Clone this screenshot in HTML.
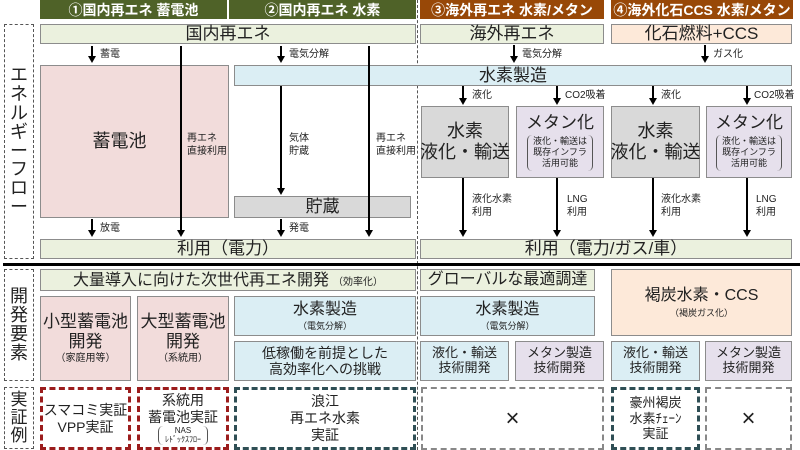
<!DOCTYPE html>
<html><head><meta charset="utf-8"><style>
*{margin:0;padding:0;box-sizing:border-box}
body{width:800px;height:450px;background:#fff;position:relative;overflow:hidden;font-family:"Liberation Sans","Noto Sans CJK JP",sans-serif;color:#222}
.a{position:absolute}
.b{position:absolute;border:1px solid #8c8c8c;display:flex;flex-direction:column;align-items:center;justify-content:center;text-align:center;line-height:1.15;white-space:nowrap}
.hg{background:#4f6228;color:#fff;font-weight:bold;font-size:14px;display:flex;align-items:center;justify-content:center;position:absolute;top:0;height:19px;white-space:nowrap}
.hb{background:#984807;color:#fff;font-weight:bold;font-size:14px;display:flex;align-items:center;justify-content:center;position:absolute;top:0;height:19px;white-space:nowrap}
.gr{background:#ebf1de}.pk{background:#f2dcdb}.bl{background:#dbeef4}.gy{background:#d9d9d9}.lv{background:#e6e0ec}.or{background:#fde9d9}
.v{position:absolute;width:2px;background:#000}
.ah{position:absolute;width:0;height:0;border-left:4px solid transparent;border-right:4px solid transparent;border-top:7px solid #000}
.s{position:absolute;font-size:10px;line-height:1.25;white-space:nowrap}
.d{position:absolute;border:1px dashed #555}
.rd{position:absolute;border:3px dashed #9b1c1c;display:flex;flex-direction:column;align-items:center;justify-content:center;text-align:center;line-height:1.2;white-space:nowrap}
.td{position:absolute;border:3px dashed #2f4f55;display:flex;flex-direction:column;align-items:center;justify-content:center;text-align:center;line-height:1.2;white-space:nowrap}
.xd{position:absolute;border:2px dashed #888;display:flex;align-items:center;justify-content:center;font-size:24px}
.vt{font-size:18px;line-height:1.05;text-align:center}
</style></head><body>
<div class="hg" style="left:40px;width:187px">①国内再エネ 蓄電池</div>
<div class="hg" style="left:229px;width:187px">②国内再エネ 水素</div>
<div class="hb" style="left:420px;width:184px">③海外再エネ 水素/メタン</div>
<div class="hb" style="left:611px;width:182px">④海外化石CCS 水素/メタン</div>

<div class="a" style="left:417px;top:0;height:450px;border-left:1px dashed #555"></div>

<div class="d" style="left:4px;top:24px;width:30px;height:235px;display:flex;align-items:center;justify-content:center"><div class="vt">エ<br>ネ<br>ル<br>ギ<br>ー<br>フ<br>ロ<br>ー</div></div>
<div class="d" style="left:4px;top:269px;width:30px;height:112px;display:flex;align-items:center;justify-content:center"><div class="vt">開<br>発<br>要<br>素</div></div>
<div class="d" style="left:4px;top:387px;width:30px;height:62px;display:flex;align-items:center;justify-content:center"><div class="vt" style="font-size:17px">実<br>証<br>例</div></div>

<div class="a" style="left:3px;top:263px;width:797px;height:3px;background:#000"></div>

<div class="b gr" style="left:40px;top:24px;width:376px;height:20px;font-size:17px">国内再エネ</div>
<div class="b gr" style="left:420px;top:24px;width:184px;height:20px;font-size:17px">海外再エネ</div>
<div class="b or" style="left:611px;top:24px;width:181px;height:20px;font-size:17px">化石燃料+CCS</div>

<div class="b pk" style="left:40px;top:65px;width:189px;height:153px;font-size:18px;padding-right:30px">蓄電池</div>
<div class="b bl" style="left:234px;top:65px;width:558px;height:21px;font-size:17px">水素製造</div>
<div class="b gy" style="left:234px;top:196px;width:177px;height:22px;font-size:17px">貯蔵</div>

<div class="b gy" style="left:421px;top:106px;width:88px;height:72px;font-size:18px">水素<br>液化・輸送</div>
<div class="b lv" style="left:516px;top:106px;width:88px;height:72px;font-size:17px">メタン化<div style="font-size:9px;border-left:1px solid #555;border-right:1px solid #555;border-radius:5px;padding:1px 5px;margin-top:2px;line-height:1.25">液化・輸送は<br>既存インフラ<br>活用可能</div></div>
<div class="b gy" style="left:611px;top:106px;width:89px;height:72px;font-size:18px">水素<br>液化・輸送</div>
<div class="b lv" style="left:706px;top:106px;width:86px;height:72px;font-size:17px">メタン化<div style="font-size:9px;border-left:1px solid #555;border-right:1px solid #555;border-radius:5px;padding:1px 5px;margin-top:2px;line-height:1.25">液化・輸送は<br>既存インフラ<br>活用可能</div></div>

<div class="b gr" style="left:40px;top:239px;width:376px;height:20px;font-size:17px">利用（電力）</div>
<div class="b gr" style="left:420px;top:239px;width:372px;height:20px;font-size:17px">利用（電力/ガス/車）</div>

<div class="v" style="left:91px;top:46px;height:11px"></div><div class="ah" style="left:88px;top:56px"></div><div class="s" style="left:100px;top:49px">蓄電</div>
<div class="v" style="left:180px;top:46px;height:185px"></div><div class="ah" style="left:177px;top:230px"></div><div class="s" style="left:187px;top:133px">再エネ<br>直接利用</div>
<div class="v" style="left:280px;top:46px;height:11px"></div><div class="ah" style="left:277px;top:56px"></div><div class="s" style="left:289px;top:49px">電気分解</div>
<div class="v" style="left:368px;top:46px;height:185px"></div><div class="ah" style="left:365px;top:230px"></div><div class="s" style="left:376px;top:133px">再エネ<br>直接利用</div>
<div class="v" style="left:280px;top:86px;height:103px"></div><div class="ah" style="left:277px;top:188px"></div><div class="s" style="left:289px;top:133px">気体<br>貯蔵</div>
<div class="v" style="left:91px;top:219px;height:12px"></div><div class="ah" style="left:88px;top:230px"></div><div class="s" style="left:100px;top:223px">放電</div>
<div class="v" style="left:280px;top:219px;height:12px"></div><div class="ah" style="left:277px;top:230px"></div><div class="s" style="left:289px;top:223px">発電</div>

<div class="v" style="left:513px;top:45px;height:12px"></div><div class="ah" style="left:510px;top:56px"></div><div class="s" style="left:522px;top:49px">電気分解</div>
<div class="v" style="left:704px;top:45px;height:12px"></div><div class="ah" style="left:701px;top:56px"></div><div class="s" style="left:713px;top:49px">ガス化</div>

<div class="v" style="left:462px;top:86px;height:13px"></div><div class="ah" style="left:459px;top:98px"></div><div class="s" style="left:472px;top:90px">液化</div>
<div class="v" style="left:556px;top:86px;height:13px"></div><div class="ah" style="left:553px;top:98px"></div><div class="s" style="left:565px;top:90px">CO2吸着</div>
<div class="v" style="left:652px;top:86px;height:13px"></div><div class="ah" style="left:649px;top:98px"></div><div class="s" style="left:661px;top:90px">液化</div>
<div class="v" style="left:746px;top:86px;height:13px"></div><div class="ah" style="left:743px;top:98px"></div><div class="s" style="left:754px;top:90px">CO2吸着</div>

<div class="v" style="left:462px;top:178px;height:53px"></div><div class="ah" style="left:459px;top:230px"></div><div class="s" style="left:472px;top:194px">液化水素<br>利用</div>
<div class="v" style="left:556px;top:178px;height:53px"></div><div class="ah" style="left:553px;top:230px"></div><div class="s" style="left:567px;top:194px">LNG<br>利用</div>
<div class="v" style="left:652px;top:178px;height:53px"></div><div class="ah" style="left:649px;top:230px"></div><div class="s" style="left:661px;top:194px">液化水素<br>利用</div>
<div class="v" style="left:746px;top:178px;height:53px"></div><div class="ah" style="left:743px;top:230px"></div><div class="s" style="left:756px;top:194px">LNG<br>利用</div>

<div class="b gr" style="left:40px;top:269px;width:376px;height:22px;font-size:16px;flex-direction:row;align-items:baseline;padding-top:2px">大量導入に向けた次世代再エネ開発<span style="font-size:10px;margin-left:4px">（効率化）</span></div>
<div class="b gr" style="left:420px;top:269px;width:175px;height:22px;font-size:16px">グローバルな最適調達</div>
<div class="b or" style="left:611px;top:269px;width:181px;height:67px;font-size:16px">褐炭水素・CCS<span style="font-size:9px;margin-top:3px">（褐炭ガス化）</span></div>

<div class="b pk" style="left:40px;top:296px;width:91px;height:85px;font-size:17px">小型蓄電池<br>開発<span style="font-size:10px;margin-top:2px">（家庭用等）</span></div>
<div class="b pk" style="left:137px;top:296px;width:92px;height:85px;font-size:17px">大型蓄電池<br>開発<span style="font-size:10px;margin-top:2px">（系統用）</span></div>
<div class="b bl" style="left:234px;top:296px;width:182px;height:40px;font-size:16px">水素製造<span style="font-size:9px;margin-top:2px">（電気分解）</span></div>
<div class="b bl" style="left:234px;top:341px;width:182px;height:40px;font-size:14px">低稼働を前提とした<br>高効率化への挑戦</div>
<div class="b bl" style="left:420px;top:296px;width:175px;height:40px;font-size:16px">水素製造<span style="font-size:9px;margin-top:2px">（電気分解）</span></div>
<div class="b bl" style="left:420px;top:341px;width:89px;height:40px;font-size:13px">液化・輸送<br>技術開発</div>
<div class="b lv" style="left:515px;top:341px;width:89px;height:40px;font-size:13px">メタン製造<br>技術開発</div>
<div class="b bl" style="left:611px;top:341px;width:89px;height:40px;font-size:13px">液化・輸送<br>技術開発</div>
<div class="b lv" style="left:705px;top:341px;width:87px;height:40px;font-size:13px">メタン製造<br>技術開発</div>

<div class="rd" style="left:40px;top:387px;width:91px;height:63px;font-size:14px">スマコミ実証<br>VPP実証</div>
<div class="rd" style="left:137px;top:387px;width:92px;height:63px;font-size:14px">系統用<br>蓄電池実証<span style="font-size:8px;border-left:1px solid #555;border-right:1px solid #555;border-radius:5px;padding:0 6px">NAS<br>ﾚﾄﾞｯｸｽﾌﾛｰ</span></div>
<div class="td" style="left:234px;top:387px;width:182px;height:63px;font-size:14px">浪江<br>再エネ水素<br>実証</div>
<div class="xd" style="left:421px;top:387px;width:183px;height:63px">×</div>
<div class="td" style="left:611px;top:387px;width:89px;height:63px;font-size:13px">豪州褐炭<br>水素ﾁｪｰﾝ<br>実証</div>
<div class="xd" style="left:705px;top:387px;width:87px;height:63px">×</div>
</body></html>
